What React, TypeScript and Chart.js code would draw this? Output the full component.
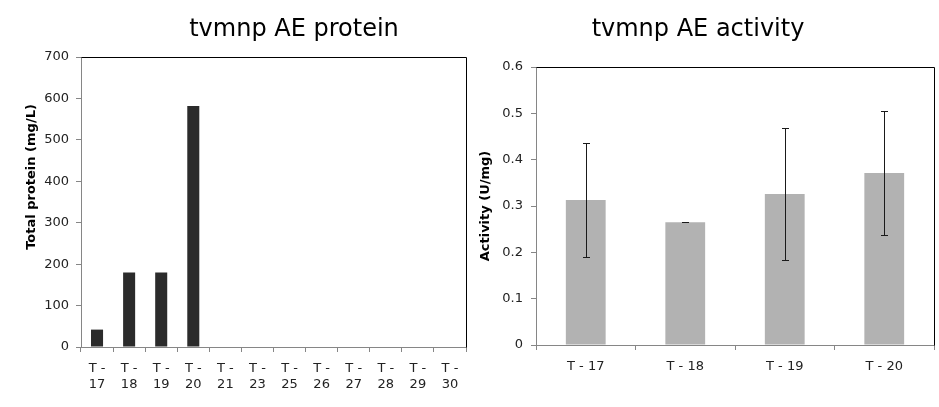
import React, { useEffect, useRef } from 'react';
import { Chart, registerables } from 'chart.js';

Chart.register(...registerables);

// ---- Data ----
const proteinTitle = 'tvmnp AE protein';
const proteinAxisTitle = 'Total protein (mg/L)';
const proteinLabels: string[][] = [
  ['T -', '17'], ['T -', '18'], ['T -', '19'], ['T -', '20'],
  ['T -', '21'], ['T -', '23'], ['T -', '25'], ['T -', '26'],
  ['T -', '27'], ['T -', '28'], ['T -', '29'], ['T -', '30'],
];
const proteinValues: (number | null)[] = [42, 180, 180, 582, null, null, null, null, null, null, null, null];

const activityTitle = 'tvmnp AE activity';
const activityAxisTitle = 'Activity (U/mg)';
const activityLabels = ['T - 17', 'T - 18', 'T - 19', 'T - 20'];
const activityValues = [0.313, 0.265, 0.326, 0.371];
const activityErrors = [0.122, 0, 0.142, 0.133];

const FONT = '"DejaVu Sans", Verdana, sans-serif';
const AXIS_GRAY = '#868686';
const TEXT = '#222';

function textPlugin(title: string, titleX: number, axisTitle: string, axX: number, axY: number) {
  return {
    id: 'texts',
    afterDraw(chart: any) {
      const ctx = chart.ctx;
      const ca = chart.chartArea;
      ctx.save();
      // plot frame top & right (black)
      ctx.strokeStyle = '#000';
      ctx.lineWidth = 1;
      ctx.beginPath();
      ctx.moveTo(Math.round(ca.left) + 0.5, Math.round(ca.top) + 0.5);
      ctx.lineTo(Math.round(ca.right) + 0.5, Math.round(ca.top) + 0.5);
      ctx.lineTo(Math.round(ca.right) + 0.5, Math.round(ca.bottom) + 0.5);
      ctx.stroke();
      // title
      ctx.fillStyle = '#000';
      ctx.font = `24px ${FONT}`;
      ctx.textAlign = 'center';
      ctx.textBaseline = 'alphabetic';
      ctx.fillText(title, titleX, 36);
      // axis title
      ctx.translate(axX, axY);
      ctx.rotate(-Math.PI / 2);
      ctx.font = `bold 13px ${FONT}`;
      ctx.textBaseline = 'middle';
      ctx.fillStyle = '#000';
      ctx.fillText(axisTitle, 0, 0);
      ctx.restore();
    },
  };
}

const errorBarPlugin = {
  id: 'errorBars',
  afterDatasetsDraw(chart: any) {
    const meta = chart.getDatasetMeta(0);
    const yScale = chart.scales.y;
    const ctx = chart.ctx;
    ctx.save();
    ctx.strokeStyle = '#1a1a1a';
    ctx.lineWidth = 1;
    meta.data.forEach((el: any, i: number) => {
      const v = activityValues[i];
      const e = activityErrors[i];
      const x = Math.round(el.x) + 0.5;
      const yHi = Math.round(yScale.getPixelForValue(v + e)) + 0.5;
      const yLo = Math.round(yScale.getPixelForValue(v - e)) + 0.5;
      ctx.beginPath();
      ctx.moveTo(x, yHi);
      ctx.lineTo(x, yLo);
      ctx.moveTo(x - 3.5, yHi);
      ctx.lineTo(x + 3.5, yHi);
      ctx.moveTo(x - 3.5, yLo);
      ctx.lineTo(x + 3.5, yLo);
      ctx.stroke();
    });
    ctx.restore();
  },
};

function ProteinChart() {
  const ref = useRef<HTMLCanvasElement>(null);
  useEffect(() => {
    const chart = new Chart(ref.current!, {
      type: 'bar',
      data: {
        labels: proteinLabels as any,
        datasets: [{
          data: proteinValues,
          backgroundColor: '#2b2b2b',
          borderWidth: 0,
          barPercentage: 0.375,
          categoryPercentage: 1,
        }],
      },
      options: {
        animation: false,
        responsive: false,
        events: [],
        layout: { padding: { top: 57, right: 4, left: 0, bottom: 0 } },
        plugins: { legend: { display: false }, title: { display: false }, tooltip: { enabled: false } },
        scales: {
          x: {
            offset: true,
            grid: { drawOnChartArea: false, drawTicks: true, tickLength: 5, color: AXIS_GRAY, offset: true },
            border: { color: AXIS_GRAY, z: 1 },
            ticks: { font: { family: FONT, size: 13, lineHeight: 1.27 }, color: TEXT, padding: 8, maxRotation: 0, autoSkip: false },
            afterFit: (s: any) => { s.height = 60; },
          },
          y: {
            min: 0,
            max: 700,
            grid: { drawOnChartArea: false, drawTicks: true, tickLength: 5, color: AXIS_GRAY },
            border: { color: AXIS_GRAY, z: 1 },
            ticks: { stepSize: 100, font: { family: FONT, size: 13 }, color: TEXT, padding: 7 },
            afterFit: (s: any) => { s.width = 81; },
          },
        },
      },
      plugins: [textPlugin(proteinTitle, 294, proteinAxisTitle, 32, 177)],
    } as any);
    return () => chart.destroy();
  }, []);
  return <canvas ref={ref} width={470} height={407} style={{ width: 470, height: 407, display: 'block' }} />;
}

function ActivityChart() {
  const ref = useRef<HTMLCanvasElement>(null);
  useEffect(() => {
    const chart = new Chart(ref.current!, {
      type: 'bar',
      data: {
        labels: activityLabels,
        datasets: [{
          data: activityValues,
          backgroundColor: '#b2b2b2',
          borderWidth: 0,
          barPercentage: 0.4,
          categoryPercentage: 1,
        }],
      },
      options: {
        animation: false,
        responsive: false,
        events: [],
        layout: { padding: { top: 67, right: 5, left: 0, bottom: 0 } },
        plugins: { legend: { display: false }, title: { display: false }, tooltip: { enabled: false } },
        scales: {
          x: {
            offset: true,
            grid: { drawOnChartArea: false, drawTicks: true, tickLength: 5, color: AXIS_GRAY, offset: true },
            border: { color: AXIS_GRAY, z: 1 },
            ticks: { font: { family: FONT, size: 13 }, color: TEXT, padding: 9, maxRotation: 0, autoSkip: false },
            afterFit: (s: any) => { s.height = 62; },
          },
          y: {
            min: 0,
            max: 0.6,
            grid: { drawOnChartArea: false, drawTicks: true, tickLength: 5, color: AXIS_GRAY },
            border: { color: AXIS_GRAY, z: 1 },
            ticks: { stepSize: 0.1, font: { family: FONT, size: 13 }, color: TEXT, padding: 8 },
            afterFit: (s: any) => { s.width = 66; },
          },
        },
      },
      plugins: [errorBarPlugin, textPlugin(activityTitle, 228, activityAxisTitle, 15.5, 206)],
    } as any);
    return () => chart.destroy();
  }, []);
  return <canvas ref={ref} width={469} height={407} style={{ width: 469, height: 407, display: 'block' }} />;
}

export default function App() {
  return (
    <div style={{ position: 'absolute', left: 0, top: 0, width: 939, height: 407, background: '#fff' }}>
      <div style={{ position: 'absolute', left: 0, top: 0 }}>
        <ProteinChart />
      </div>
      <div style={{ position: 'absolute', left: 470, top: 0 }}>
        <ActivityChart />
      </div>
    </div>
  );
}
